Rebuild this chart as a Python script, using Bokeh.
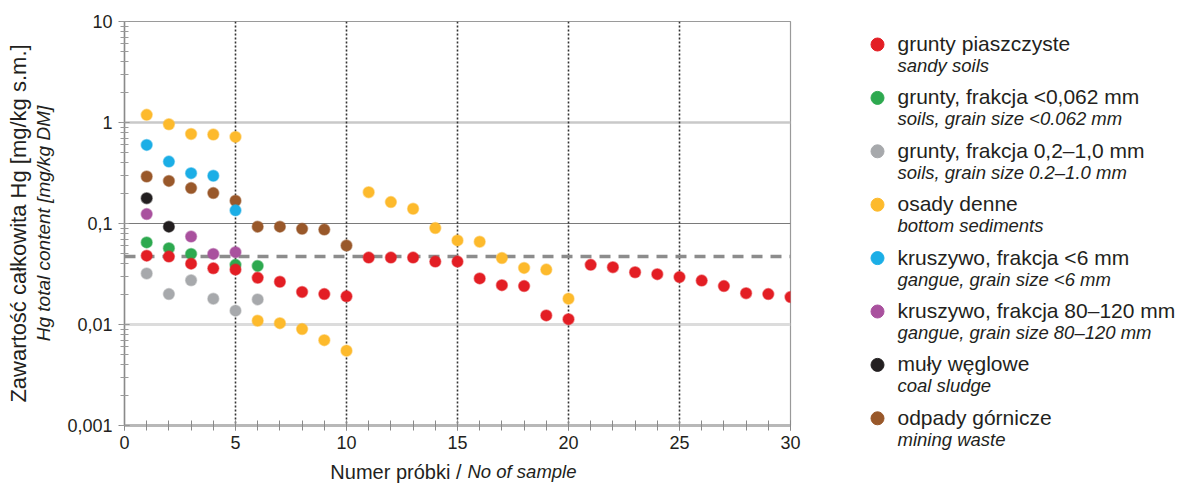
import math
from bokeh.plotting import figure
from bokeh.models import (Range1d, Span, Title, LogTicker, SingleIntervalTicker,
                          CustomJSTickFormatter, ColumnDataSource)
from bokeh.layouts import row, column
from bokeh.core.properties import value
from bokeh.embed import file_html
from bokeh.resources import INLINE

FONT = "Liberation Sans"
TXT = "#231F20"

# ---------------- data ----------------
sandy_x = list(range(1, 31))
sandy_y = [0.048, 0.047, 0.040, 0.036, 0.035, 0.029, 0.0265, 0.021, 0.020, 0.019,
           0.046, 0.046, 0.046, 0.042, 0.042, 0.0286, 0.0245, 0.024, 0.0123, 0.0113,
           0.039, 0.0369, 0.0329, 0.0315, 0.0295, 0.0272, 0.024, 0.0204, 0.020, 0.0187]

fine_x = [1, 2, 3, 5, 6]
fine_y = [0.065, 0.057, 0.050, 0.039, 0.038]

medium_x = [1, 2, 3, 4, 5, 6]
medium_y = [0.032, 0.020, 0.0274, 0.018, 0.0137, 0.0177]

sediment_x = list(range(1, 21))
sediment_y = [1.19, 0.96, 0.77, 0.76, 0.72, 0.0109, 0.0103, 0.0090, 0.0070, 0.0055,
              0.204, 0.163, 0.140, 0.090, 0.068, 0.066, 0.0455, 0.0363, 0.035, 0.018]

gangue6_x = [1, 2, 3, 4, 5]
gangue6_y = [0.60, 0.41, 0.315, 0.297, 0.135]

gangue80_x = [1, 3, 4, 5]
gangue80_y = [0.124, 0.0743, 0.050, 0.052]

sludge_x = [1, 2]
sludge_y = [0.178, 0.093]

waste_x = list(range(1, 11))
waste_y = [0.292, 0.264, 0.224, 0.20, 0.168, 0.093, 0.093, 0.0886, 0.087, 0.0605]

names_pl = ["grunty piaszczyste", "grunty, frakcja <0,062 mm", "grunty, frakcja 0,2\u20131,0 mm",
            "osady denne", "kruszywo, frakcja <6 mm", "kruszywo, frakcja 80\u2013120 mm",
            "mu\u0142y w\u0119glowe", "odpady g\u00f3rnicze"]
names_en = ["sandy soils", "soils, grain size <0.062 mm", "soils, grain size 0.2\u20131.0 mm",
            "bottom sediments", "gangue, grain size <6 mm", "gangue, grain size 80\u2013120 mm",
            "coal sludge", "mining waste"]
colors = ["#E31E24", "#2DA94F", "#A7A9AC", "#FDBA2C", "#1BAEE6", "#A9519E", "#231F20", "#99582A"]
xs = [sandy_x, fine_x, medium_x, sediment_x, gangue6_x, gangue80_x, sludge_x, waste_x]
ys = [sandy_y, fine_y, medium_y, sediment_y, gangue6_y, gangue80_y, sludge_y, waste_y]

threshold = 0.047
hgrid_vals = [1, 0.1, 0.01]
vgrid_vals = [5, 10, 15, 20, 25]

x_title_pl = "Numer pr\u00f3bki /"
x_title_en = "No of sample"
y_title_pl = "Zawarto\u015b\u0107 ca\u0142kowita Hg [mg/kg s.m.]"
y_title_en = "Hg total content [mg/kg DM]"

# ---------------- main plot ----------------
p = figure(width=830, height=455, x_range=Range1d(0, 30), y_range=Range1d(0.001, 10),
           y_axis_type="log", output_backend="svg", toolbar_location=None,
           min_border_left=124, min_border_right=40, min_border_top=21, min_border_bottom=30,
           background_fill_color="white", border_fill_color="white")
p.xgrid.visible = False
p.ygrid.visible = False
p.outline_line_color = "#9a9a9a"
p.outline_line_width = 1.2

hstyles = [("#c9c9c9", 2.5), ("#7a7a7a", 1.2), ("#dcdcdc", 3)]
for v, (c, w) in zip(hgrid_vals, hstyles):
    p.add_layout(Span(location=v, dimension="width", line_color=c, line_width=w, level="underlay"))
for v in vgrid_vals:
    p.add_layout(Span(location=v, dimension="height", line_color="#333333", line_width=1.6,
                      line_dash="2 2", level="underlay"))
p.add_layout(Span(location=threshold, dimension="width", line_color="#8c8c8c", line_width=3.5,
                  line_dash="11 8", level="underlay"))

for i in reversed(range(len(xs))):
    src = ColumnDataSource(dict(x=xs[i], y=ys[i]))
    p.scatter("x", "y", source=src, size=11, fill_color=colors[i], line_color=colors[i],
              line_alpha=0.5, line_width=1.5)

# y axis
p.yaxis.ticker = LogTicker(mantissas=[1], desired_num_ticks=5, num_minor_ticks=10)
p.yaxis.formatter = CustomJSTickFormatter(code="""
    if (tick >= 1) { return Math.round(tick).toString(); }
    const d = Math.round(-Math.log10(tick));
    return tick.toFixed(d).replace('.', ',');
""")
p.yaxis.axis_line_color = "#8a8a8a"
p.yaxis.axis_line_width = 1.5
p.yaxis.major_tick_in = 5
p.yaxis.major_tick_out = 6
p.yaxis.minor_tick_in = 4
p.yaxis.minor_tick_out = 4
p.yaxis.major_tick_line_color = "#8a8a8a"
p.yaxis.minor_tick_line_color = "#9a9a9a"
p.yaxis.major_label_standoff = 6
p.yaxis.major_label_text_font = FONT
p.yaxis.major_label_text_font_size = "18px"
p.yaxis.major_label_text_color = TXT
p.yaxis.axis_label = y_title_en
p.yaxis.axis_label_text_font = FONT
p.yaxis.axis_label_text_font_style = "italic"
p.yaxis.axis_label_text_font_size = "19px"
p.yaxis.axis_label_text_color = TXT
p.yaxis.axis_label_standoff = 10
p.add_layout(Title(text=y_title_pl, align="center", text_font=FONT,
                   text_font_style="normal", text_font_size="22px", text_color=TXT,
                   standoff=0), "left")

# x axis
p.xaxis.ticker = SingleIntervalTicker(interval=5, num_minor_ticks=5)
p.xaxis.axis_line_color = "#b8b8b8"
p.xaxis.axis_line_width = 3
p.xaxis.major_tick_in = 5
p.xaxis.major_tick_out = 5
p.xaxis.minor_tick_in = 5
p.xaxis.minor_tick_out = 5
p.xaxis.major_tick_line_color = "#8a8a8a"
p.xaxis.minor_tick_line_color = "#8a8a8a"
p.xaxis.major_label_standoff = 5
p.xaxis.major_label_text_font = FONT
p.xaxis.major_label_text_font_size = "18px"
p.xaxis.major_label_text_color = TXT

# ---------------- x title strip (pixel coordinates) ----------------
xt = figure(width=830, height=29, x_range=Range1d(124, 790), y_range=Range1d(484, 455),
            output_backend="svg", toolbar_location=None, x_axis_location=None,
            y_axis_location=None, min_border_left=124, min_border_right=40,
            min_border_top=0, min_border_bottom=0, outline_line_color=None,
            background_fill_color="white", border_fill_color="white")
xt.grid.visible = False
xt.text(x=[461], y=[471], text=[x_title_pl], text_align="right", text_baseline="middle",
        text_font=value(FONT), text_font_size="20px", text_color=TXT)
xt.text(x=[467], y=[471], text=[x_title_en], text_align="left", text_baseline="middle",
        text_font=value(FONT), text_font_style="italic", text_font_size="18.5px", text_color=TXT)

# ---------------- legend panel (pixel coordinates) ----------------
leg = figure(width=353, height=484, x_range=Range1d(830, 1183), y_range=Range1d(484, 0),
             output_backend="svg", toolbar_location=None, x_axis_location=None,
             y_axis_location=None, min_border=0, outline_line_color=None,
             background_fill_color="white", border_fill_color="white")
leg.grid.visible = False
row_y = [44 + 53.4 * i for i in range(len(names_pl))]
leg_src = ColumnDataSource(dict(
    dot_x=[877] * len(names_pl), y=row_y, ty=[r - 1 for r in row_y], y2=[r + 21 for r in row_y],
    tx=[897] * len(names_pl), pl=names_pl, en=names_en, c=colors))
leg.scatter("dot_x", "y", source=leg_src, size=13, fill_color="c", line_color="c")
leg.text("tx", "ty", text="pl", source=leg_src, text_font=value(FONT), text_font_size="21px",
         text_baseline="middle", text_color=TXT)
leg.text("tx", "y2", text="en", source=leg_src, text_font=value(FONT), text_font_size="18.5px",
         text_font_style="italic", text_baseline="middle", text_color=TXT)

layout = row(column(p, xt), leg)
open("out.html", "w").write(file_html(layout, INLINE))
